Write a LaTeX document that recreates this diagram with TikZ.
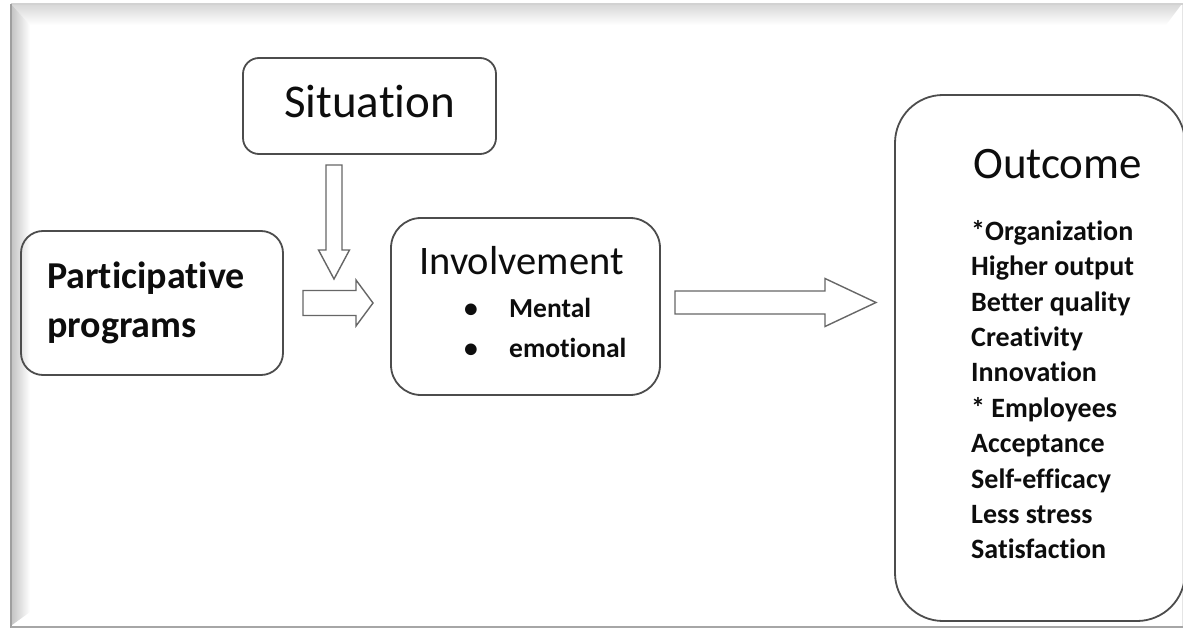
\documentclass[tikz,border=0pt]{standalone}
\usepackage{fontspec}
\setmainfont{Carlito}[Ligatures=NoCommon]
\usetikzlibrary{calc}

% hollow block arrow from tail #1 to tip #2
% #3 half shaft, #4 half head, #5 head length
\newcommand{\blockarrow}[5]{%
  \draw[blk] let \p1=($(#2)!#5!(#1)$) in
    ($(#1)!#3!90:(#2)$) -- ($(\p1)!#3!-90:(#1)$) -- ($(\p1)!#4!-90:(#1)$) -- (#2)
    -- ($(\p1)!#4!90:(#1)$) -- ($(\p1)!#3!90:(#1)$) -- ($(#1)!#3!-90:(#2)$) -- cycle;}

\begin{document}
\begin{tikzpicture}[x=1pt, y=-1pt,
    box/.style={draw=black!70, line width=1.8pt, rectangle, inner sep=0pt},
    blk/.style={draw=black!60, line width=1.4pt, fill=white, line join=miter},
    lbl/.style={inner sep=0pt, text=black!95}
    ]
    \useasboundingbox (0,0) rectangle (1183,628);

    % frame
    \shade[top color=gray!30, bottom color=white] (12,5) -- (1181,5) -- (1166,25) -- (30,25) -- cycle;
    \shade[left color=gray!45, right color=white] (12,5) -- (30,25) -- (30,612) -- (12,625) -- cycle;
    \draw[gray!35, line width=2pt] (11,4) -- (1183,4);
    \draw[gray!20, line width=1pt] (1182,5) -- (1182,626);
    \draw[gray!75, line width=2.5pt] (11,628) -- (11,4);
    \draw[gray!70, line width=2pt] (11,626.5) -- (1183,626.5);

    % boxes
    \node[box, rounded corners=16pt, minimum width=253pt, minimum height=96pt] (sit) at (369.5,106) {};
    \node[box, rounded corners=22pt, minimum width=262pt, minimum height=144pt] (prog) at (152,303) {};
    \node[box, rounded corners=30pt, minimum width=269pt, minimum height=177pt] (inv) at (525.5,306.5) {};
    \node[box, rounded corners=48pt, minimum width=290pt, minimum height=526pt] (outc) at (1040,358) {};

    % texts
    \node[lbl, anchor=base west, font=\fontsize{47}{56}\selectfont] (sitT) at (284,118) {Situation};
    \node[lbl, anchor=north west, align=left, font=\bfseries\fontsize{38}{49}\selectfont] (progT) at (47,262) {Participative\\programs};
    \node[lbl, anchor=base west, font=\fontsize{40.5}{48}\selectfont] (invT) at (419,275) {Involvement};
    \node[lbl, anchor=north west, align=left, font=\bfseries\fontsize{27.5}{40}\selectfont] (invL) at (464,298)
        {\makebox[45pt][l]{\textbullet}Mental\\\makebox[45pt][l]{\textbullet}emotional};
    \node[lbl, anchor=base west, font=\fontsize{45}{54}\selectfont] (outT) at (973,179) {Outcome};
    \node[lbl, anchor=north west, align=left, font=\bfseries\fontsize{28}{35.4}\selectfont] (outL) at (971,220)
        {*Organization\\Higher output\\Better quality\\Creativity\\Innovation\\* Employees\\Acceptance\\Self-efficacy\\Less stress\\Satisfaction};

    % arrows
    \coordinate (sitA) at (334,165);
    \coordinate (sitB) at (334,279);
    \coordinate (progA) at (303,303);
    \coordinate (progB) at (373,303);
    \coordinate (invA) at (675,302.5);
    \coordinate (invB) at (876,302.5);
    \blockarrow{sitA}{sitB}{8pt}{15.5pt}{29pt}
    \blockarrow{progA}{progB}{12.5pt}{23pt}{17pt}
    \blockarrow{invA}{invB}{11.5pt}{24pt}{51pt}
\end{tikzpicture}
\end{document}
